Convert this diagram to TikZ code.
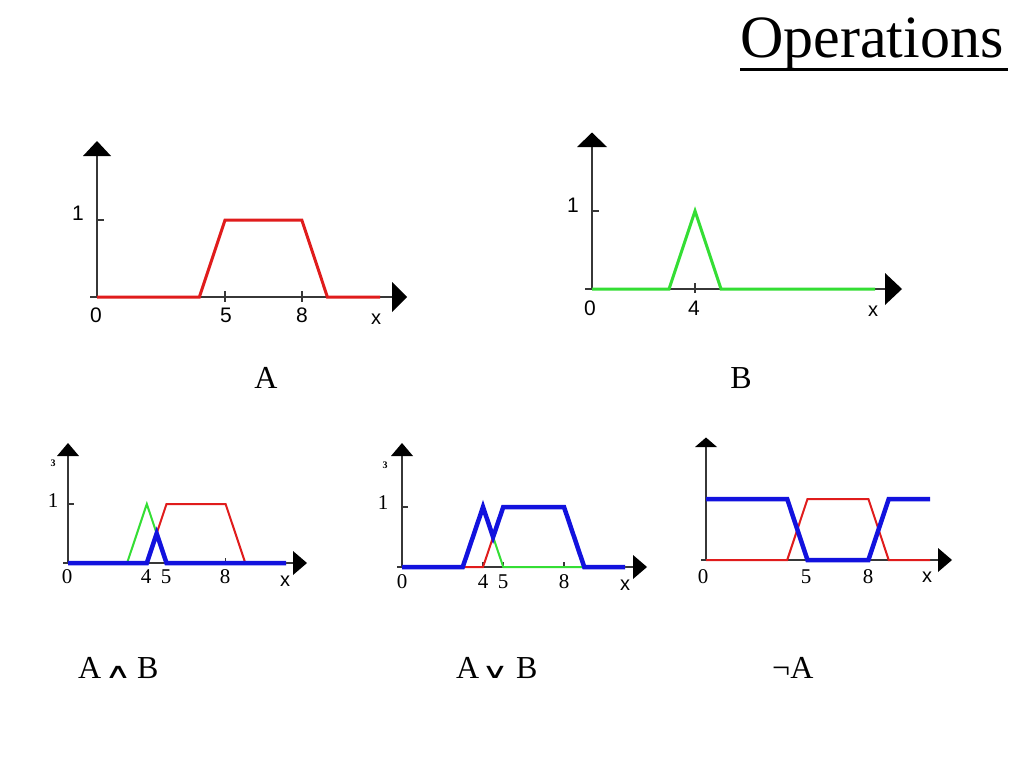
\documentclass[tikz,border=0pt]{standalone}
\usepackage{fontspec}
\setmainfont{Liberation Serif}
\newfontfamily\lsans{Liberation Sans}
\newfontfamily\djb{DejaVu Sans}
\definecolor{cred}{RGB}{224,28,28}
\definecolor{cgreen}{RGB}{52,222,52}
\definecolor{cblue}{RGB}{18,18,222}
\definecolor{cax}{RGB}{55,55,55}
\newcommand{\opsym}[1]{\scalebox{1.75}[1.0]{\djb\fontsize{21}{21}\selectfont #1}}
\begin{document}
\begin{tikzpicture}[x=1pt,y=-1pt,
  ax/.style={draw=cax, line width=1.1pt},
  tipfill/.style={fill=black},
  thickred/.style={draw=cred, line width=3pt, line join=miter},
  thickgreen/.style={draw=cgreen, line width=3pt, line join=miter},
  thinred/.style={draw=cred, line width=2pt, line join=miter},
  thingreen/.style={draw=cgreen, line width=2pt, line join=miter},
  fatblue/.style={draw=cblue, line width=4.5pt, line join=miter},
  ticklab/.style={inner sep=0pt, font=\lsans\fontsize{21}{21}\selectfont},
  sticklab/.style={inner sep=0pt, font=\fontsize{21}{21}\selectfont},
  xlab/.style={inner sep=0pt, font=\lsans\fontsize{20}{20}\selectfont},
  setlab/.style={inner sep=0pt, font=\fontsize{32}{32}\selectfont},
  oplab/.style={inner sep=0pt, anchor=base},
  frag/.style={inner sep=0pt, font=\bfseries\fontsize{10}{10}\selectfont}
]
\useasboundingbox[fill=white] (0,0) rectangle (1024,768);

% ---------- Title ----------
\node[anchor=base west, inner sep=0pt, font=\fontsize{60}{60}\selectfont] (title) at (740,58) {Operations};
\draw[line width=3pt] (740,69) -- (1008,69);

% ---------- Graph A ----------
\draw[ax] (97,297) -- (97,152);
\fill[tipfill] (97,141) -- (111,156) -- (83,156) -- cycle;
\draw[ax] (90,297) -- (394,297);
\fill[tipfill] (392,282) -- (407,297) -- (392,312) -- cycle;
\draw[ax] (97,220) -- (104,220);
\draw[ax] (225,291) -- (225,302);
\draw[ax] (302,291) -- (302,302);
\draw[thickred] (97,297) -- (199.4,297) -- (225,220) -- (301.8,220) -- (327.4,297) -- (380,297);
\node[ticklab] (a1) at (78,213) {1};
\node[ticklab] (a0) at (96,315.5) {0};
\node[ticklab] (a5) at (226,315.5) {5};
\node[ticklab] (a8) at (302,315.5) {8};
\node[xlab] (ax) at (376,319) {x};
\node[setlab] (labA) at (266,378) {A};

% ---------- Graph B ----------
\draw[ax] (592,289) -- (592,144);
\fill[tipfill] (592,132.5) -- (607,147) -- (577,147) -- cycle;
\draw[ax] (585,289) -- (888,289);
\fill[tipfill] (885,273) -- (902,289) -- (885,305) -- cycle;
\draw[ax] (592,211) -- (599,211);
\draw[ax] (695,283) -- (695,293);
\draw[thickgreen] (592,289) -- (669,289) -- (695,211) -- (721,289) -- (875,289);
\node[ticklab] (b1) at (573,205) {1};
\node[ticklab] (b0) at (590,308) {0};
\node[ticklab] (b4) at (694,308) {4};
\node[xlab] (bx) at (873,311) {x};
\node[setlab] (labB) at (741,378) {B};

% ---------- Graph A and B ----------
\draw[ax] (68,563) -- (68,452);
\fill[tipfill] (68,443) -- (79,456) -- (57,456) -- cycle;
\draw[ax] (63,563) -- (295,563);
\fill[tipfill] (293,551) -- (307,563) -- (293,575) -- cycle;
\draw[ax] (68,504) -- (74,504);
\draw[ax] (146.8,558) -- (146.8,563);
\draw[ax] (166.5,558) -- (166.5,563);
\draw[ax] (225.6,558) -- (225.6,563);
\draw[thingreen] (68,563) -- (127.1,563) -- (146.8,504) -- (166.5,563) -- (286,563);
\draw[thinred] (68,563) -- (146.8,563) -- (166.5,504) -- (225.6,504) -- (245.3,563) -- (286,563);
\draw[fatblue] (68,563) -- (146.8,563) -- (156.65,533.5) -- (166.5,563) -- (286,563);
\node[frag] (c3) at (53,463) {3};
\node[sticklab] (c1) at (53,501) {1};
\node[sticklab] (c0) at (67,577) {0};
\node[sticklab] (c4) at (146,577) {4};
\node[sticklab] (c5) at (166,577) {5};
\node[sticklab] (c8) at (225,577) {8};
\node[xlab] (cx) at (285,581) {x};
\node[setlab, anchor=base west] (andA) at (78,678) {A};
\node[oplab] (andOp) at (118,678) {\opsym{∧}};
\node[setlab, anchor=base west] (andB) at (137,678) {B};

% ---------- Graph A or B ----------
\draw[ax] (402,567) -- (402,452);
\fill[tipfill] (402,443) -- (413,456) -- (391,456) -- cycle;
\draw[ax] (397,567) -- (635,567);
\fill[tipfill] (633,555) -- (647,567) -- (633,579) -- cycle;
\draw[ax] (402,507) -- (408,507);
\draw[ax] (483,562) -- (483,567);
\draw[ax] (503.25,562) -- (503.25,567);
\draw[ax] (564,562) -- (564,567);
\draw[thinred] (402,567) -- (483,567) -- (503.25,507) -- (564,507) -- (584.25,567) -- (625,567);
\draw[thingreen] (402,567) -- (462.75,567) -- (483,507) -- (503.25,567) -- (625,567);
\draw[fatblue] (402,567) -- (462.75,567) -- (483,507) -- (493.1,537) -- (503.25,507) -- (564,507) -- (584.25,567) -- (625,567);
\node[frag] (d3) at (385,465) {3};
\node[sticklab] (d1) at (383,503) {1};
\node[sticklab] (d0) at (402,582) {0};
\node[sticklab] (d4) at (483,582) {4};
\node[sticklab] (d5) at (503,582) {5};
\node[sticklab] (d8) at (564,582) {8};
\node[xlab] (dx) at (625,585) {x};
\node[setlab, anchor=base west] (orA) at (456,678) {A};
\node[oplab] (orOp) at (495,678) {\opsym{∨}};
\node[setlab, anchor=base west] (orB) at (516,678) {B};

% ---------- Graph not A ----------
\draw[ax] (706,560) -- (706,446);
\fill[tipfill] (706,437.5) -- (717,447) -- (695,447) -- cycle;
\draw[ax] (701,560) -- (940,560);
\fill[tipfill] (938,548) -- (952,560) -- (938,572) -- cycle;
\draw[thinred] (706,560) -- (787.2,560) -- (807.5,499) -- (868.4,499) -- (888.7,560) -- (930,560);
\draw[fatblue] (706,499) -- (787.2,499) -- (807.5,560) -- (868.4,560) -- (888.7,499) -- (930,499);
\node[sticklab] (e0) at (703,577) {0};
\node[sticklab] (e5) at (806,577) {5};
\node[sticklab] (e8) at (868,577) {8};
\node[xlab] (ex) at (927,577) {x};
\node[setlab, anchor=base west] (labNot) at (772,678) {¬A};

\end{tikzpicture}
\end{document}
